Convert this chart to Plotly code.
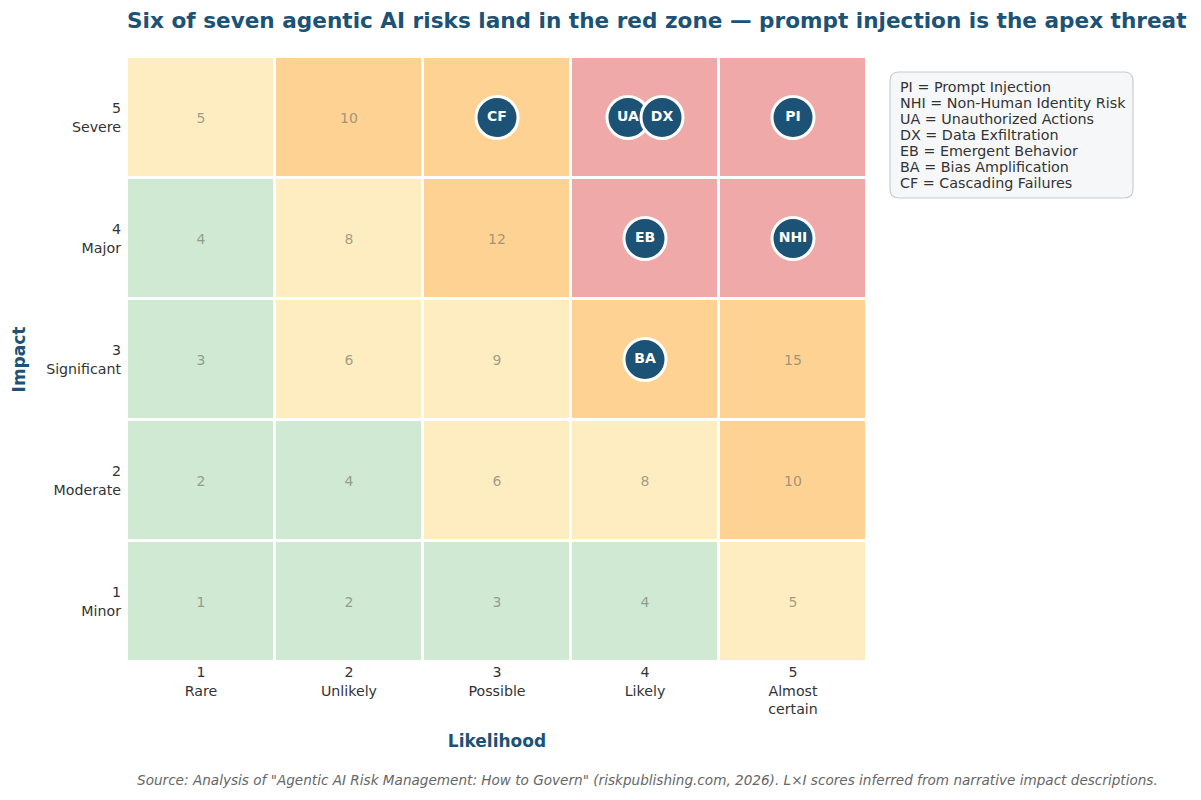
import plotly.graph_objects as go

likelihood = [1, 2, 3, 4, 5]
impact = [1, 2, 3, 4, 5]
x_ticklabels = ["1<br>Rare", "2<br>Unlikely", "3<br>Possible", "4<br>Likely", "5<br>Almost<br>certain"]
y_ticklabels = ["1<br>Minor", "2<br>Moderate", "3<br>Significant", "4<br>Major", "5<br>Severe"]

risk_codes = ["PI", "NHI", "UA", "DX", "EB", "BA", "CF"]
risk_names = ["Prompt Injection", "Non-Human Identity Risk", "Unauthorized Actions",
              "Data Exfiltration", "Emergent Behavior", "Bias Amplification", "Cascading Failures"]
risk_likelihood = [5, 5, 4, 4, 4, 4, 3]
risk_impact = [5, 4, 5, 5, 4, 3, 5]
risk_offset = [0, 0, -0.115, 0.115, 0, 0, 0]

zone_colors = ["#d0e9d2", "#feedc0", "#fed293", "#f0a9a9"]

def zone(s):
    if s <= 4:
        return 0
    if s <= 9:
        return 1
    if s <= 15:
        return 2
    return 3

scores = [[l * i for l in likelihood] for i in impact]
zones = [[zone(s) for s in row] for row in scores]
risk_cells = set(zip(risk_likelihood, risk_impact))
score_text = [[("" if (l, i) in risk_cells else str(l * i)) for l in likelihood] for i in impact]

colorscale = []
for k, c in enumerate(zone_colors):
    colorscale.append([k / 4, c])
    colorscale.append([(k + 1) / 4, c])

fig = go.Figure()
fig.add_trace(go.Heatmap(
    x=likelihood, y=impact, z=zones, zmin=0, zmax=4,
    colorscale=colorscale, showscale=False, xgap=3, ygap=3,
    text=score_text, texttemplate="%{text}",
    textfont=dict(family="DejaVu Sans", size=14, color="rgba(120,120,110,0.7)"),
    hoverinfo="skip",
))

fig.add_trace(go.Scatter(
    x=[l + o for l, o in zip(risk_likelihood, risk_offset)], y=risk_impact,
    mode="markers+text", text=risk_codes,
    marker=dict(size=42, color="#1b5276", line=dict(color="white", width=3)),
    textfont=dict(family="DejaVu Sans", size=14, color="white", weight="bold"),
    textposition="middle center", hoverinfo="skip", showlegend=False,
))

L, R, T, B = 127, 334, 57, 138
W, H = 1201, 800
pw, ph = W - L - R, H - T - B

def px_x(p):
    return (p - L) / pw

def px_y(p):
    return (H - B - p) / ph

# rounded legend box
x0, x1, y0, y1 = px_x(890), px_x(1133), px_y(198), px_y(72)
rx, ry = 9 / pw, 9 / ph
path = (f"M {x0+rx},{y0} L {x1-rx},{y0} Q {x1},{y0} {x1},{y0+ry} "
        f"L {x1},{y1-ry} Q {x1},{y1} {x1-rx},{y1} L {x0+rx},{y1} Q {x0},{y1} {x0},{y1-ry} "
        f"L {x0},{y0+ry} Q {x0},{y0} {x0+rx},{y0} Z")
fig.add_shape(type="path", path=path, xref="paper", yref="paper",
              fillcolor="#f6f7f9", line=dict(color="#cccccc", width=1.2), layer="above")

for k, (c, n) in enumerate(zip(risk_codes, risk_names)):
    fig.add_annotation(x=px_x(898), y=px_y(87 + 16 * k), xref="paper", yref="paper",
                       xanchor="left", yanchor="middle", align="left", showarrow=False,
                       text=f"{c} = {n}",
                       font=dict(family="DejaVu Sans", size=14.3, color="#333333"))

fig.add_annotation(x=px_x(1160), y=px_y(780), xref="paper", yref="paper",
                   xanchor="right", yanchor="middle", showarrow=False,
                   text='<i>Source: Analysis of "Agentic AI Risk Management: How to Govern" (riskpublishing.com, 2026). L×I scores inferred from narrative impact descriptions.</i>',
                   font=dict(family="DejaVu Sans", size=13.6, color="#666666"))

fig.update_layout(
    width=W, height=H,
    margin=dict(l=L, r=R, t=T, b=B),
    paper_bgcolor="white", plot_bgcolor="white",
    font=dict(family="DejaVu Sans", size=14, color="#333333"),
    title=dict(text="<b>Six of seven agentic AI risks land in the red zone — prompt injection is the apex threat</b>",
               x=L / W, xanchor="left", xref="container",
               y=1 - 20 / H, yanchor="middle",
               font=dict(family="DejaVu Sans", size=21.6, color="#1b5276")),
    xaxis=dict(range=[0.5, 5.5], tickvals=likelihood, ticktext=x_ticklabels,
               showgrid=False, zeroline=False, showline=False, ticks="", fixedrange=True,
               tickfont=dict(size=14.2, color="#333333"),
               title=dict(text="<b>Likelihood</b>", font=dict(size=17, color="#1b5276"), standoff=18)),
    yaxis=dict(range=[0.5, 5.5], tickvals=impact, ticktext=y_ticklabels,
               showgrid=False, zeroline=False, showline=False, ticks="", fixedrange=True,
               tickfont=dict(size=14.2, color="#333333"), ticklabelstandoff=5,
               title=dict(text="<b>Impact</b>", font=dict(size=17, color="#1b5276"), standoff=16)),
    showlegend=False,
)

fig.write_html("out.html")
